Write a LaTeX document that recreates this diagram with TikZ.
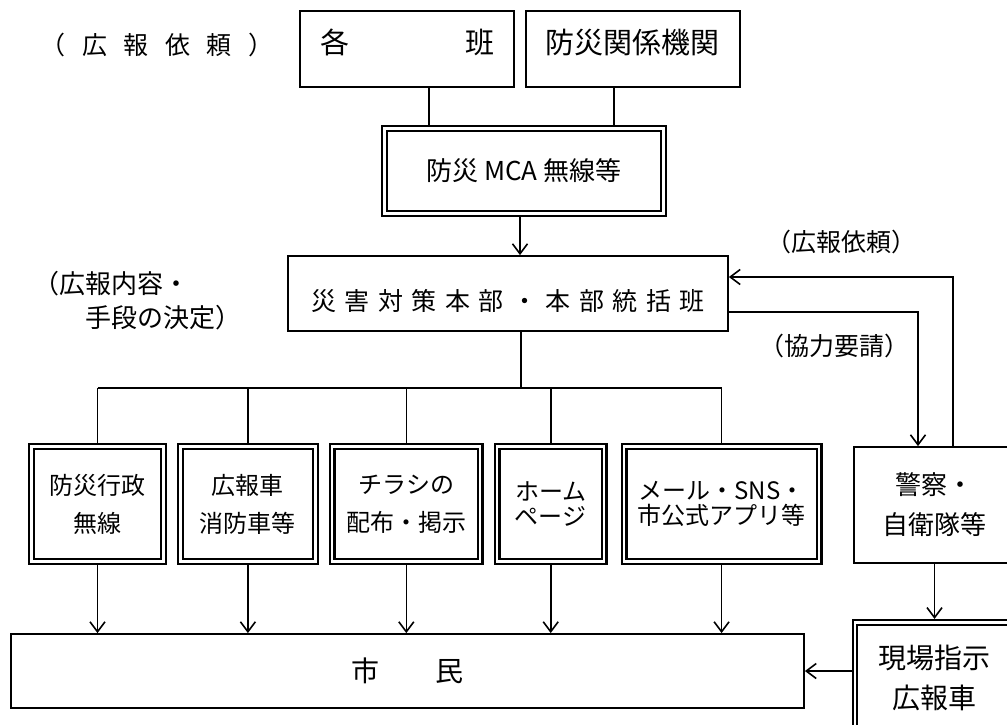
\documentclass[tikz,border=0pt]{standalone}
\usepackage{fontspec}
\setmainfont{Noto Sans CJK JP}
\usetikzlibrary{arrows.meta,positioning}
\newcommand{\jfs}[2]{\fontsize{#1pt}{#2pt}\selectfont}
\tikzset{
  box/.style={draw, line width=1.8pt, align=center, inner sep=0pt},
  dbox/.style={draw, double, line width=2.3pt, double distance=2.3pt, outer sep=3.45pt, align=center, inner sep=0pt},
  lab/.style={align=left, inner sep=0pt},
  link/.style={line width=1.6pt},
  arrow/.style={-{Straight Barb[length=10pt,width=15pt]}, line width=1.6pt},
}

\begin{document}
\begin{tikzpicture}[x=1pt, y=-1pt]
\clip (0,0) rectangle (1007,725);
% top row
\node[box, minimum width=214pt, minimum height=76pt, font=\jfs{29}{36}, text depth=16pt] (kaku) at (407,49) {各　　　　班};
\node[box, minimum width=214pt, minimum height=76pt, font=\jfs{29}{36}, text depth=16pt, right=10pt of kaku] (kikan) {防災関係機関};
\node[dbox, minimum width=279pt, minimum height=85pt, font=\jfs{26}{32}] (mca) at (524,171) {防災 MCA 無線等};
\node[box, minimum width=440pt, minimum height=75pt, font=\jfs{25}{32}\addfontfeatures{LetterSpace=34}, text height=37pt, text depth=3pt] (honbu) at (508,293.5) {災害対策本部・本部統括班};
% means
\node[dbox, minimum width=132pt, minimum height=115pt, font=\jfs{24}{38}] (gyosei) at (97.5,504) {防災行政\\無線};
\node[dbox, minimum width=135pt, minimum height=115pt, font=\jfs{24}{38}, right=10pt of gyosei] (koho) {広報車\\消防車等};
\node[dbox, minimum width=148pt, minimum height=115pt, font=\jfs{24}{38}, right=10pt of koho] (chirashi) {チラシの\\配布・掲示};
\node[dbox, minimum width=107pt, minimum height=115pt, font=\jfs{24}{25}, right=10pt of chirashi] (hp) {ホーム\\ページ};
\node[dbox, minimum width=195pt, minimum height=115pt, font=\jfs{24}{25}, right=13pt of hp] (mail) {メール・SNS・\\市公式アプリ等};
\node[box, minimum width=793pt, minimum height=74pt, font=\jfs{28}{34}] (shimin) at (407.5,671) {市　　民};
% right side
\node[box, minimum width=161pt, minimum height=116pt, font=\jfs{26}{40}] (keisatsu) at (934.5,505) {警察・\\自衛隊等};
\node[dbox, minimum width=159pt, minimum height=111pt, font=\jfs{28}{40}, below=55pt of keisatsu] (genba) {現場指示\\広報車};
% labels
\node[lab, font=\jfs{25}{32}\addfontfeatures{LetterSpace=66}] (irai) at (157,45) {（広報依頼）};
\node[lab, font=\jfs{26}{34}, anchor=west] (naiyo) at (33,300.5) {（広報内容・\\\hspace*{2em}手段の決定）};
\node[lab, font=\jfs{25}{32}] (irai2) at (841,242) {（広報依頼）};
\node[lab, font=\jfs{25}{32}] (kyoryoku) at (834,346) {（協力要請）};
% connectors
\draw[link] ([xshift=22pt]kaku.south) -- ([xshift=22pt]kaku.south |- mca.north);
\draw[link] ([xshift=-19pt]kikan.south) -- ([xshift=-19pt]kikan.south |- mca.north);
\draw[arrow] ([xshift=-4pt]mca.south) -- ([xshift=-4pt]mca.south |- honbu.north);
\coordinate (bus) at (521,388);
\draw[link] (honbu.south -| bus) -- (bus);
\draw[link] (gyosei.north |- bus) -- (mail.north |- bus);
\foreach \n in {gyosei,koho,chirashi,hp,mail} {
  \draw[link] (\n.north |- bus) -- (\n.north);
  \draw[arrow] (\n.south) -- (\n.south |- shimin.north);
}
\draw[arrow] ([yshift=-18.5pt]honbu.east) -| ([xshift=-16.5pt]keisatsu.north);
\draw[arrow] ([xshift=18.5pt]keisatsu.north) |- ([yshift=16.5pt]honbu.east);
\draw[arrow] (keisatsu.south) -- (keisatsu.south |- genba.north);
\draw[arrow] (genba.west |- shimin.east) -- (shimin.east);
\end{tikzpicture}
\end{document}
